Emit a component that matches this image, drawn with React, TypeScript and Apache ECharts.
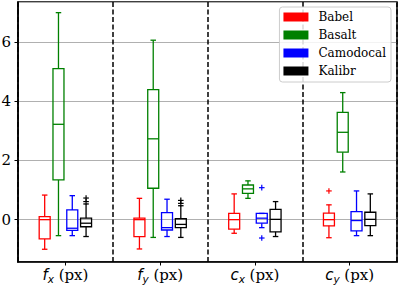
import React, { useEffect, useRef } from 'react';
import * as echarts from 'echarts';

const categories = ['fx', 'fy', 'cx', 'cy'];
const letters = ['f', 'f', 'c', 'c'];
const subs = ['x', 'y', 'x', 'y'];
const methods = ['Babel', 'Basalt', 'Camodocal', 'Kalibr'];
const colors = ['#ff0000', '#008000', '#0000ff', '#000000'];

// [min, q1, median, q3, max] per parameter (fx, fy, cx, cy)
const babel = [
  [-1.0, -0.65, 0.0, 0.1, 0.83],
  [-0.99, -0.57, 0.0, 0.05, 0.72],
  [-0.46, -0.32, 0.0, 0.21, 0.87],
  [-0.61, -0.21, 0.0, 0.22, 0.5],
];
const basalt = [
  [-0.54, 1.34, 3.22, 5.1, 6.99],
  [-0.6, 1.06, 2.73, 4.39, 6.06],
  [0.72, 0.89, 1.04, 1.17, 1.31],
  [1.61, 2.28, 2.95, 3.62, 4.29],
];
const camodocal = [
  [-0.54, -0.36, -0.29, 0.33, 0.81],
  [-0.57, -0.35, -0.27, 0.24, 0.69],
  [-0.27, -0.12, 0.05, 0.21, 0.21],
  [-0.54, -0.38, -0.03, 0.27, 0.97],
];
const kalibr = [
  [-0.57, -0.24, -0.12, 0.05, 0.53],
  [-0.6, -0.27, -0.16, 0.03, 0.47],
  [-0.57, -0.41, 0.01, 0.35, 0.61],
  [-0.54, -0.2, 0.01, 0.25, 0.87],
];
// outliers: [parameter index, value]
const babelOutliers = [[3, 0.97]];
const basaltOutliers: number[][] = [];
const camodocalOutliers = [[2, 1.08], [2, -0.62]];
const kalibrOutliers = [[0, 0.61], [0, 0.73], [1, 0.55], [1, 0.65]];

const yTicks = [0, 2, 4, 6];
const yMin = -1.43;
const yMax = 7.35;

const allStats = [babel, basalt, camodocal, kalibr];
const allOutliers = [babelOutliers, basaltOutliers, camodocalOutliers, kalibrOutliers];

const SPACING = 0.1456;
const HALFW = 0.058;

export default function App() {
  const ref = useRef<HTMLDivElement>(null);
  useEffect(() => {
    if (!ref.current) return;
    const chart = echarts.init(ref.current, null, { renderer: 'svg' });
    const boxSeries = methods.map((m, si) => ({
      type: 'custom',
      name: m,
      itemStyle: { color: colors[si] },
      encode: { x: 0, y: [1, 2, 3, 4, 5] },
      data: allStats[si].map((s, gi) => [gi, ...s]),
      z: 3,
      renderItem: (params: any, api: any) => {
        const g = api.value(0);
        const bw = api.size([1, 0])[0];
        const cx = api.coord([g, 0])[0] + (si - 1.5) * bw * SPACING;
        const half = bw * HALFW;
        const cap = half / 2;
        const y = (k: number) => api.coord([g, api.value(k)])[1];
        const yl = y(1), q1 = y(2), md = y(3), q3 = y(4), yh = y(5);
        const st = { stroke: colors[si], lineWidth: 1.3, fill: 'none' };
        return {
          type: 'group',
          children: [
            { type: 'line', shape: { x1: cx, y1: yl, x2: cx, y2: q1 }, style: st },
            { type: 'line', shape: { x1: cx, y1: q3, x2: cx, y2: yh }, style: st },
            { type: 'line', shape: { x1: cx - cap, y1: yl, x2: cx + cap, y2: yl }, style: st },
            { type: 'line', shape: { x1: cx - cap, y1: yh, x2: cx + cap, y2: yh }, style: st },
            { type: 'rect', shape: { x: cx - half, y: q3, width: 2 * half, height: q1 - q3 }, style: st },
            { type: 'line', shape: { x1: cx - half, y1: md, x2: cx + half, y2: md }, style: st },
          ],
        };
      },
    }));
    const outSeries = methods.map((m, si) => ({
      type: 'custom',
      name: m + ' outliers',
      encode: { x: 0, y: 1 },
      data: allOutliers[si],
      z: 3,
      renderItem: (params: any, api: any) => {
        const g = api.value(0);
        const bw = api.size([1, 0])[0];
        const p = api.coord([g, api.value(1)]);
        const cx = p[0] + (si - 1.5) * bw * SPACING;
        const cy = p[1];
        const r = 2.8;
        const st = { stroke: colors[si], lineWidth: 1.2, fill: 'none' };
        return {
          type: 'group',
          children: [
            { type: 'line', shape: { x1: cx - r, y1: cy, x2: cx + r, y2: cy }, style: st },
            { type: 'line', shape: { x1: cx, y1: cy - r, x2: cx, y2: cy + r }, style: st },
          ],
        };
      },
    }));
    chart.setOption({
      animation: false,
      backgroundColor: '#ffffff',
      grid: {
        left: 18,
        right: 2,
        top: 2,
        bottom: 26,
        show: true,
        borderColor: '#000',
        borderWidth: 1.5,
        containLabel: false,
        outerBoundsMode: 'none',
      },
      legend: {
        orient: 'vertical',
        right: 8,
        top: 7,
        icon: 'rect',
        itemWidth: 25,
        itemHeight: 9,
        itemGap: 4,
        padding: [3, 5, 4, 4],
        backgroundColor: 'rgba(255,255,255,0.85)',
        borderColor: '#cccccc',
        borderWidth: 1,
        borderRadius: 3,
        data: methods.map((m, i) => ({ name: m, itemStyle: { color: colors[i] } })),
        textStyle: {
          fontFamily: 'DejaVu Serif',
          fontSize: 12,
          color: '#000',
          lineHeight: 14,
          padding: [0, 0, 0, 5],
        },
      },
      xAxis: {
        type: 'category',
        data: categories,
        boundaryGap: true,
        axisLine: { onZero: false, lineStyle: { color: '#000', width: 1.5 } },
        axisTick: { show: true, alignWithLabel: true, length: 3.5, lineStyle: { color: '#000', width: 1 } },
        splitLine: { show: true, interval: 0, lineStyle: { color: '#000', width: 1.5, type: [5, 2.5] } },
        axisLabel: {
          interval: 0,
          margin: 4,
          formatter: (v: string, i: number) => `{f|${letters[i]}}{s|${subs[i]}}{n| (px)}`,
          rich: {
            f: { fontFamily: 'DejaVu Sans', fontStyle: 'italic', fontSize: 15, color: '#000', lineHeight: 18, verticalAlign: 'middle' },
            s: { fontFamily: 'DejaVu Sans', fontStyle: 'italic', fontSize: 10.5, color: '#000', lineHeight: 10, verticalAlign: 'bottom' },
            n: { fontFamily: 'DejaVu Serif', fontSize: 15, color: '#000', lineHeight: 18, verticalAlign: 'middle' },
          },
        },
      },
      yAxis: {
        type: 'value',
        min: yMin,
        max: yMax,
        splitNumber: 5,
        axisLine: { show: true, onZero: false, lineStyle: { color: '#000', width: 1.5 } },
        axisTick: { show: true, length: 3.5, lineStyle: { color: '#000', width: 1 } },
        splitLine: { show: true, lineStyle: { color: '#b0b0b0', width: 1 } },
        axisLabel: {
          margin: 7,
          showMinLabel: false,
          showMaxLabel: false,
          fontFamily: 'DejaVu Serif',
          fontSize: 15,
          color: '#000',
          formatter: (v: number) => (yTicks.indexOf(v) >= 0 ? String(v) : ''),
        },
      },
      series: [...boxSeries, ...outSeries],
    });
    return () => chart.dispose();
  }, []);
  return (
    <div
      ref={ref}
      style={{ position: 'fixed', left: 0, top: 0, width: 399, height: 288, background: '#fff' }}
    />
  );
}
